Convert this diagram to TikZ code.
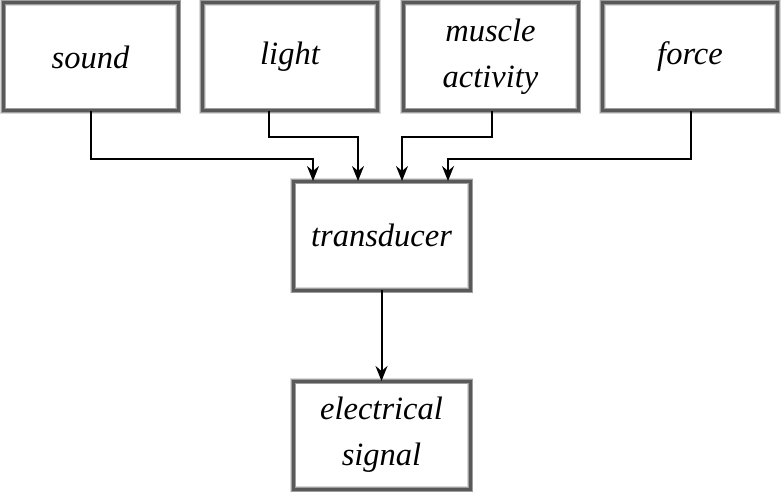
\documentclass[tikz,border=0pt]{standalone}
\usepackage{fontspec}
\setmainfont{Liberation Serif}
\usetikzlibrary{arrows.meta,calc}
\begin{document}
\begin{tikzpicture}[x=1pt,y=-1pt,
  box/.style={minimum width=175pt,minimum height=108pt,inner sep=0pt,outer sep=0pt,
    align=center,font=\fontsize{32.5}{46}\selectfont\itshape,
    preaction={draw=black!15,line width=6.5pt},
    preaction={draw=black!38,line width=5pt},
    draw=black!65,line width=3pt},
  conn/.style={line width=2pt,-{Stealth[length=15pt,width=12pt,inset=5pt]}}]
\useasboundingbox (0,0) rectangle (781,492);
\node[box] (sound) at (90.5,57) {sound};
\node[box] (light) at (290,57) {light};
\node[box] (muscle) at (490.5,57) {muscle\\activity};
\node[box] (force) at (690,57) {force};
\node[box,minimum width=177pt,minimum height=109pt] (tr) at (381.5,235.5) {transducer};
\node[box,minimum width=177pt] (el) at (381.5,435) {electrical\\signal};
\coordinate (s1) at (91,159);
\coordinate (l1) at (269,137);
\coordinate (m1) at (492,137);
\coordinate (f1) at (691,159);
\coordinate (t1) at (313,0);
\coordinate (t2) at (358,0);
\coordinate (t3) at (402,0);
\coordinate (t4) at (448,0);
\draw[conn] (sound.south -| s1) -- (s1) -| (tr.north -| t1);
\draw[conn] (light.south -| l1) -- (l1) -| (tr.north -| t2);
\draw[conn] (muscle.south -| m1) -- (m1) -| (tr.north -| t3);
\draw[conn] (force.south -| f1) -- (f1) -| (tr.north -| t4);
\draw[conn] (tr.south) -- (el.north);
\end{tikzpicture}
\end{document}
